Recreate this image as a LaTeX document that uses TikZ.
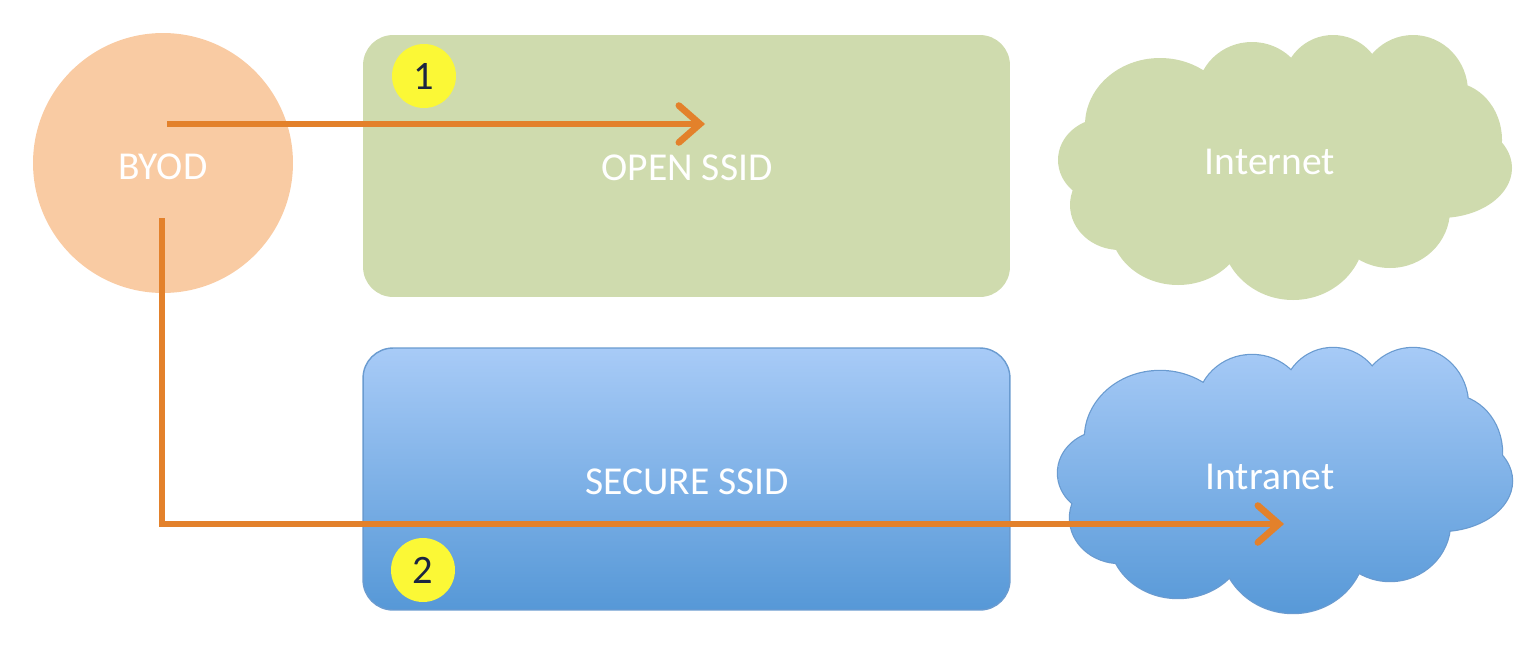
\documentclass[tikz,border=0pt]{standalone}
\usepackage{fontspec}
\setmainfont{Carlito}
\usetikzlibrary{arrows.meta,calc}
\definecolor{peach}{HTML}{F9CBA3}
\definecolor{sage}{HTML}{CFDBAE}
\definecolor{yel}{HTML}{FBF836}
\definecolor{navy}{HTML}{1C2541}
\definecolor{orng}{HTML}{E3812B}
\definecolor{bluetop}{HTML}{A8CBF7}
\definecolor{bluebot}{HTML}{5698D7}
\definecolor{blueline}{HTML}{6A9BD0}
\tikzset{
  lbl/.style={text=white, font=\fontsize{22.5}{27}\selectfont},
  ssidbox/.style={rectangle, rounded corners=0.6cm, minimum width=12.94cm, minimum height=5.24cm, lbl},
  numcirc/.style={circle, fill=yel, minimum size=1.28cm, inner sep=0pt, text=navy, font=\fontsize{23}{27}\selectfont},
  arr/.style={draw=orng, line width=3.8pt, -{Straight Barb[length=12pt,width=21pt,line cap=round]}},
}
\newcommand{\cloudshape}{%
  (1160,125) ellipse[x radius=75, y radius=67]
  (1252,95) ellipse[x radius=55, y radius=53]
  (1333,85) ellipse[x radius=50, y radius=50]
  (1413,92) ellipse[x radius=55, y radius=57]
  (1450,140) ellipse[x radius=52, y radius=58]
  (1440,168) ellipse[x radius=72, y radius=50]
  (1390,210) ellipse[x radius=60, y radius=58]
  (1293,232) ellipse[x radius=72, y radius=68]
  (1178,225) ellipse[x radius=68, y radius=60]
  (1120,205) ellipse[x radius=50, y radius=45]
  (1105,160) ellipse[x radius=47, y radius=42]
  (1285,160) ellipse[x radius=180, y radius=95]}
\begin{document}
\begin{tikzpicture}[x=0.02cm, y=-0.02cm]
\useasboundingbox (0,0) rectangle (1538,646);

% BYOD
\node[circle, fill=peach, minimum size=5.2cm, lbl] (byod) at (163,163) {};
\node[lbl] (byodt) at (163,167) {BYOD};

% SSID boxes
\node[ssidbox, fill=sage] (open) at (686.5,166) {};
\node[lbl] (opent) at (687,168) {OPEN SSID};
\node[ssidbox, top color=bluetop, bottom color=bluebot, draw=blueline, line width=0.8pt] (secure) at (686.5,479) {};
\node[lbl] (securet) at (687,482) {SECURE SSID};

% Internet cloud
\fill[sage] \cloudshape;
\node[lbl] (internet) at (1270,162) {Internet};

% Intranet cloud
\begin{scope}[shift={(0,313)}]
  \draw[blueline, line width=1.4pt] \cloudshape;
  \begin{scope}
    \clip \cloudshape;
    \shade[top color=bluetop, bottom color=bluebot] (1040,30) rectangle (1530,305);
  \end{scope}
\end{scope}
\node[lbl] (intranet) at (1270,477) {Intranet};

% number badges
\node[numcirc] (n1) at (424,76) {1};
\node[numcirc] (n2) at (423,570) {2};

% connectors
\coordinate (a1s) at (167,124);
\coordinate (a1e) at (705,124);
\coordinate (a2s) at (162,218);
\coordinate (a2m) at (162,524);
\coordinate (a2e) at (1284,524);
\draw[arr] (a1s) -- (a1e);
\draw[arr, line join=miter] (a2s) -- (a2m) -- (a2e);
\end{tikzpicture}
\end{document}
